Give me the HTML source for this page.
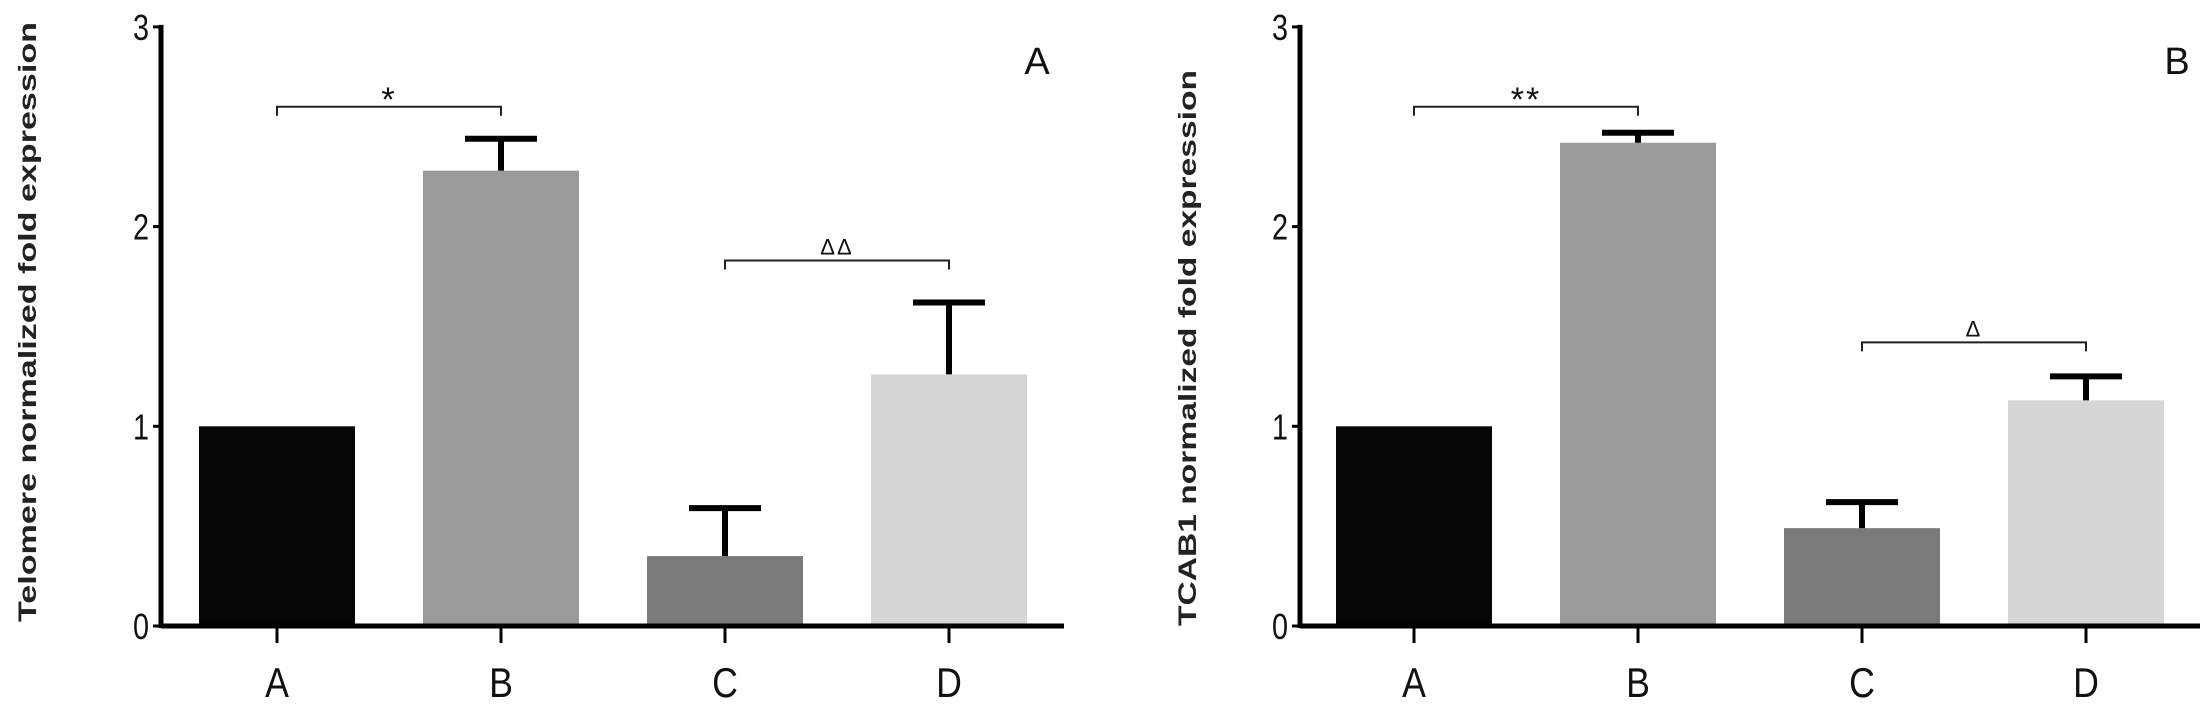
<!DOCTYPE html>
<html><head><meta charset="utf-8"><style>
html,body{margin:0;padding:0;background:#fff;}
svg{display:block;}
text{font-family:"Liberation Sans",sans-serif;}
</style></head><body>
<svg id="chart" width="2200" height="706" viewBox="0 0 2200 706" xmlns="http://www.w3.org/2000/svg"></svg>
<script>
const categories = ["A","B","C","D"];
const telomereValues = [1.0, 2.28, 0.35, 1.26];
const telomereErrors = [0.0, 0.16, 0.24, 0.36];
const tcab1Values = [1.0, 2.42, 0.49, 1.13];
const tcab1Errors = [0.0, 0.05, 0.13, 0.12];
const yTicks = [0, 1, 2, 3];
const panelLabels = ["A", "B"];
const yTitles = ["Telomere normalized fold expression", "TCAB1 normalized fold expression"];
const sigLabelsA = ["*", "ΔΔ"];
const sigLabelsB = ["**", "Δ"];

const svg = document.getElementById('chart');
const NS = "http://www.w3.org/2000/svg";
const colors = ["#050505", "#9b9b9b", "#7a7a7a", "#d6d6d6"];
function mk(tag, attrs, parent){
  const e = document.createElementNS(NS, tag);
  for (const k in attrs) e.setAttribute(k, attrs[k]);
  (parent||svg).appendChild(e);
  return e;
}
const y0 = 626, pxPerUnit = 199.7;
function yScale(v){ return y0 - v * pxPerUnit; }

function drawPanel(cfg){
  const g = mk('g', {});
  
  
  const xScale = i => cfg.firstCenter + i * 224;
  // bars
  cfg.values.forEach((v, i) => {
    const cx = xScale(i);
    const r = mk('rect', {x: cx - 78, y: yScale(v), width: 156, height: y0 - yScale(v), fill: colors[i]}, g);
    
    
    const e = cfg.errors[i];
    if (e > 0) {
      const top = yScale(v + e);
      const eg = mk('g', {stroke: '#000', 'stroke-width': 6}, g);
      
      
      mk('line', {x1: cx, x2: cx, y1: yScale(v), y2: top}, eg);
      mk('line', {x1: cx - 36, x2: cx + 36, y1: top, y2: top}, eg);
    }
  });
  // axes
  const ax = mk('g', {stroke: '#000', 'stroke-width': 5}, g);
  
  
  mk('line', {x1: cfg.axisX, x2: cfg.axisX, y1: yScale(3) - 2, y2: y0 + 2}, ax);
  mk('line', {x1: cfg.axisX, x2: cfg.axisEnd, y1: y0, y2: y0}, ax);
  yTicks.forEach(t => {
    mk('line', {x1: cfg.axisX - 8, x2: cfg.axisX, y1: yScale(t), y2: yScale(t), 'stroke-width': 3}, ax);
    const tl = mk('text', {x: cfg.axisX - 12, y: yScale(t) + 13, 'text-anchor': 'end', 'font-size': 36, fill: '#111', transform: `translate(${cfg.axisX-12},0) scale(0.8,1) translate(${-(cfg.axisX-12)},0)`}, g);
    tl.textContent = t;
    
    
  });
  categories.forEach((c, i) => {
    const cx = xScale(i);
    mk('line', {x1: cx, x2: cx, y1: y0, y2: 643, 'stroke-width': 3}, ax);
    const xl = mk('text', {x: cx, y: 697, 'text-anchor': 'middle', 'font-size': 42, fill: '#111', transform: `translate(${cx},0) scale(0.85,1) translate(${-cx},0)`}, g);
    xl.textContent = c;
    
    
  });
  // y title
  const yt = mk('text', {x: 0, y: 0, 'text-anchor': 'middle', 'font-size': 25, 'font-weight': 'bold', fill: '#222',
    textLength: cfg.titleLen, lengthAdjust: 'spacingAndGlyphs',
    transform: `translate(${cfg.titleX},${cfg.titleY}) rotate(-90)`}, g);
  yt.textContent = cfg.title;
  
  
  // panel label
  const pl = mk('text', {x: cfg.labelX, y: 74, 'text-anchor': 'middle', 'font-size': 38, fill: '#111'}, g);
  pl.textContent = cfg.label;
  
  
  // significance brackets
  cfg.sig.forEach((s, k) => {
    const x1 = xScale(s.from), x2 = xScale(s.to), by = yScale(s.level);
    const sg = mk('g', {}, g);
    
    
    mk('path', {d: `M${x1},${by+9} V${by} H${x2} V${by+9}`, fill: 'none', stroke: '#222', 'stroke-width': 2}, sg);
    const st = mk('text', {x: (x1+x2)/2, y: by - (s.text.includes('*') ? -4 : 6), 'text-anchor': 'middle', 'font-size': s.text.includes('*') ? 34 : 22, fill: '#111', 'letter-spacing': 2}, sg);
    st.textContent = s.text;
  });
}

drawPanel({name: 'panel-a-telomere', values: telomereValues, errors: telomereErrors, firstCenter: 277,
  axisX: 161, axisEnd: 1064, title: yTitles[0], titleX: 36, titleY: 322, titleLen: 600, label: panelLabels[0], labelX: 1037,
  sig: [{from: 0, to: 1, level: 2.6, text: sigLabelsA[0]}, {from: 2, to: 3, level: 1.83, text: sigLabelsA[1]}]});
drawPanel({name: 'panel-b-tcab1', values: tcab1Values, errors: tcab1Errors, firstCenter: 1414,
  axisX: 1300, axisEnd: 2200, title: yTitles[1], titleX: 1196, titleY: 348, titleLen: 556, label: panelLabels[1], labelX: 2177,
  sig: [{from: 0, to: 1, level: 2.6, text: sigLabelsB[0]}, {from: 2, to: 3, level: 1.42, text: sigLabelsB[1]}]});
</script>
</body></html>
